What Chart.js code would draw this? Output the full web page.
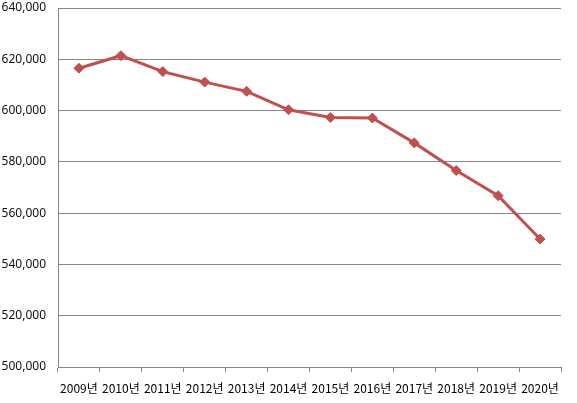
<!DOCTYPE html>
<html>
<head>
<meta charset="utf-8">
<script src="https://cdn.jsdelivr.net/npm/chart.js@4/dist/chart.umd.min.js"></script>
<style>
html,body{margin:0;padding:0;background:#fff;}
#wrap{width:577px;height:403px;}
</style>
</head>
<body>
<div id="wrap"><canvas id="c" width="577" height="403"></canvas></div>
<script>
const categories = ["2009년","2010년","2011년","2012년","2013년","2014년","2015년","2016년","2017년","2018년","2019년","2020년"];
const values = [616500, 621400, 615200, 611100, 607500, 600300, 597300, 597100, 587400, 576600, 566800, 549900];
const yMin = 500000, yMax = 640000, yStep = 20000;

new Chart(document.getElementById('c'), {
  type: 'line',
  data: {
    labels: categories,
    datasets: [{
      data: values,
      borderColor: '#C0504D',
      backgroundColor: '#C0504D',
      borderWidth: 3,
      pointStyle: 'rectRot',
      pointRadius: 5,
      pointHoverRadius: 5,
      pointBorderWidth: 1,
      tension: 0,
      fill: false
    }]
  },
  options: {
    responsive: false,
    animation: false,
    devicePixelRatio: 1,
    layout: { padding: { top: 8, right: 16, left: 0, bottom: 0 } },
    plugins: { legend: { display: false }, tooltip: { enabled: false } },
    scales: {
      x: {
        offset: true,
        grid: { display: true, drawOnChartArea: false, drawTicks: true, tickLength: 5, offset: true, color: '#868686', lineWidth: 1 },
        border: { display: true, color: '#868686', width: 1 },
        ticks: { color: '#000', font: { family: '"Noto Sans CJK KR", "Noto Sans", sans-serif', size: 12 }, padding: 9, maxRotation: 0, autoSkip: false },
        afterFit: s => { s.height = 36; s.paddingLeft = 0; s.paddingRight = 0; }
      },
      y: {
        min: yMin, max: yMax,
        grid: { color: '#868686', lineWidth: 1, drawTicks: false },
        border: { display: true, color: '#868686', width: 1 },
        ticks: {
          stepSize: yStep, color: '#111', padding: 12,
          font: { family: '"Noto Sans", sans-serif', size: 12 },
          callback: v => v.toLocaleString('en-US')
        },
        afterFit: s => { s.width = 58; s.paddingTop = 0; s.paddingBottom = 0; }
      }
    }
  }
});
</script>
</body>
</html>
